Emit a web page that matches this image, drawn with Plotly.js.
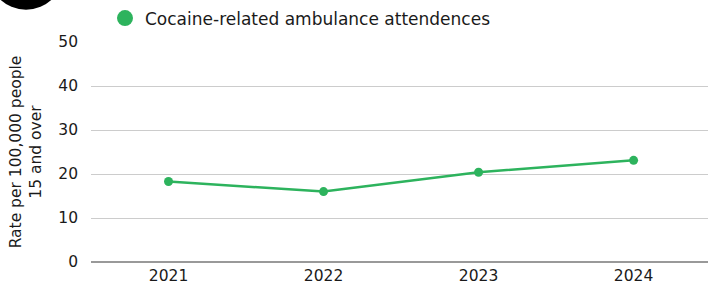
<!DOCTYPE html>
<html>
<head>
<meta charset="utf-8">
<script src="https://cdn.plot.ly/plotly-3.0.1.min.js"></script>
<style>html,body{margin:0;padding:0;background:#fff;}#chart{width:708px;height:291px;}</style>
</head>
<body>
<div id="chart"></div>
<script>
const years = ['2021', '2022', '2023', '2024'];
const rates = [18.3, 16.0, 20.4, 23.1];
const seriesName = 'Cocaine-related ambulance attendences';
const yTicks = [0, 10, 20, 30, 40, 50];

const green = '#2db35d';
const font = 'DejaVu Sans, sans-serif';
const ink = '#1a1a1a';

const trace = {
  x: years, y: rates, type: 'scatter', mode: 'lines+markers', name: seriesName,
  line: {color: green, width: 2.5},
  marker: {color: green, size: 9},
  cliponaxis: false, showlegend: false
};
// legend entry: dot only
const legendTrace = {
  x: [null], y: [null], type: 'scatter', mode: 'markers', name: seriesName,
  marker: {color: green, size: 17}, showlegend: true
};

const layout = {
  width: 708, height: 291,
  margin: {l: 91, r: 0, t: 40, b: 29},
  paper_bgcolor: '#fff', plot_bgcolor: '#fff',
  font: {family: font, size: 15.5, color: ink},
  showlegend: true,
  legend: {orientation: 'h', x: (105 - 91) / 617, xanchor: 'left', y: 1.025, yanchor: 'bottom',
    font: {family: font, size: 17, color: ink}, itemsizing: 'trace', bgcolor: 'rgba(0,0,0,0)'},
  xaxis: {type: 'category', range: [-0.5, 3.48], showgrid: false, zeroline: false, showline: false,
    ticks: '', ticklabelstandoff: 2, tickfont: {family: font, size: 15.5, color: ink}, fixedrange: true},
  yaxis: {range: [0, 50], tickvals: yTicks, ticktext: yTicks.map(String), showgrid: true,
    gridcolor: '#cccccc', gridwidth: 1, zeroline: true, zerolinecolor: '#999999', zerolinewidth: 2,
    showline: false, ticks: '', ticklabelstandoff: 12,
    tickfont: {family: font, size: 15.5, color: ink},
    title: {text: 'Rate per 100,000 people<br>15 and over', font: {family: font, size: 15.5, color: ink}, standoff: 12},
    fixedrange: true},
  shapes: []
};

// black badge circle, partly cut off at the top-left
const plotW = 708 - 91, plotH = 291 - 40 - 29;
const cx = 26, cy = -31, r = 38;
layout.shapes.push({type: 'circle', xref: 'paper', yref: 'paper', xsizemode: 'pixel', ysizemode: 'pixel',
  xanchor: (cx - 91) / plotW, yanchor: (291 - 29 - cy) / plotH,
  x0: -r, x1: r, y0: -r, y1: r, fillcolor: '#000', line: {width: 0}, layer: 'above'});

Plotly.newPlot('chart', [trace, legendTrace], layout, {displayModeBar: false, staticPlot: true});
</script>
</body>
</html>
